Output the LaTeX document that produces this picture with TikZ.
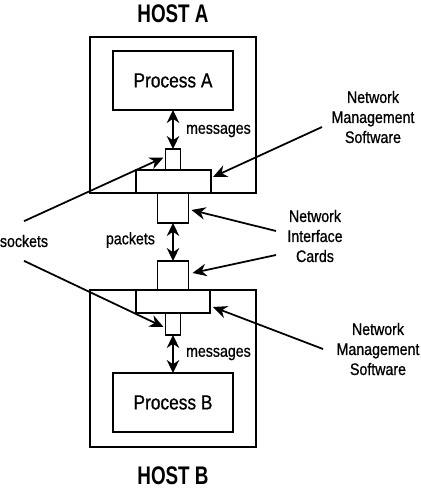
\documentclass[tikz,border=0pt]{standalone}
\usepackage{fontspec}
\setmainfont{Liberation Sans}[FakeStretch=0.85, FakeBold=0.8]
\newfontfamily\hostfont{Liberation Sans}[FakeStretch=0.74]
\usetikzlibrary{arrows.meta,calc}

\begin{document}
\begin{tikzpicture}[x=0.02cm, y=-0.02cm,
		box/.style={draw, line width=1pt, inner sep=0pt, outer sep=0pt},
		lbl/.style={font=\fontsize{9.5}{11.4}\selectfont, align=center, inner sep=1pt},
		ptr/.style={line width=1pt, -{Stealth[length=2.8mm, width=2.5mm]}},
		dbl/.style={line width=1pt, {Stealth[length=2.6mm, width=2.5mm]}-{Stealth[length=2.6mm, width=2.5mm]}}]
			%%%%% START %%%%%
			\useasboundingbox (0, 0) rectangle (421, 490);
			
			\node[font=\hostfont\bfseries\fontsize{14.5}{16}\selectfont] (titleA) at (173, 14) {HOST A};
			\node[box, minimum width=3.32cm, minimum height=3.12cm] (hostA) at (173, 115) {};
			\node[box, minimum width=2.4cm, minimum height=1.18cm, font=\fontsize{11.6}{14}\selectfont] (procA) at (173, 80.5) {Process A};
			\node[box, minimum width=0.3cm, minimum height=0.42cm] (sockA) at (173, 159.5) {};
			\node[box, minimum width=1.5cm, minimum height=0.46cm] (nmsA) at (173.5, 181.5) {};
			\node[box, minimum width=0.62cm, minimum height=0.6cm] (nicA) at (173, 208) {};
			
			\node[box, minimum width=0.62cm, minimum height=0.58cm] (nicB) at (173, 275.5) {};
			\node[box, minimum width=3.32cm, minimum height=3.14cm] (hostB) at (173, 368.5) {};
			\node[box, minimum width=1.48cm, minimum height=0.46cm] (nmsB) at (173, 301.5) {};
			\node[box, minimum width=0.3cm, minimum height=0.44cm] (sockB) at (173, 324) {};
			\node[box, minimum width=2.4cm, minimum height=1.18cm, font=\fontsize{11.6}{14}\selectfont] (procB) at (173, 402.5) {Process B};
			\node[font=\hostfont\bfseries\fontsize{14.5}{16}\selectfont] (titleB) at (173, 476) {HOST B};
			
			\node[lbl, anchor=west] (msgA) at (184, 131) {messages};
			\node[lbl, anchor=west] (msgB) at (184, 354) {messages};
			\node[lbl, anchor=east] (pkts) at (157, 240) {packets};
			\node[lbl, minimum height=0.78cm] (sock) at (24, 241) {sockets};
			\node[lbl] (nmsAtxt) at (373, 117) {Network\\Management\\Software};
			\node[lbl] (nicTxt) at (315, 236) {Network\\Interface\\Cards};
			\node[lbl] (nmsBtxt) at (378, 349) {Network\\Management\\Software};
			
			\coordinate (nmsAfrom) at (322, 127);
			\coordinate (nicFromA) at (276, 231);
			\coordinate (nicFromB) at (276, 255);
			\coordinate (nmsBfrom) at (323, 349);
			
			\draw[dbl] (procA) -- (sockA);
			\draw[dbl] (nicA) -- (nicB);
			\draw[dbl] (sockB) -- (procB);
			
			\draw[ptr] (sock.north) -- ($(sockA.west)+(-2, -2)$);
			\draw[ptr] (sock.south) -- ($(sockB.west)+(-2, 3)$);
			\draw[ptr] (nmsAfrom) -- ($(nmsA.east)+(2, -4.5)$);
			\draw[ptr] (nicFromA) -- ($(nicA.east)+(3, 2)$);
			\draw[ptr] (nicFromB) -- ($(nicB.east)+(4, -2.5)$);
			\draw[ptr] (nmsBfrom) -- ($(nmsB.east)+(3, 5.5)$);
			%%%%% END %%%%%
\end{tikzpicture}
\end{document}
